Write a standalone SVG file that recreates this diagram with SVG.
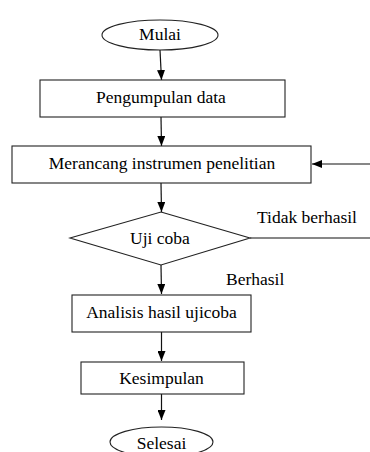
<svg xmlns="http://www.w3.org/2000/svg" width="370" height="452" viewBox="0 0 370 452">
<defs>
<marker id="ah" markerWidth="10" markerHeight="8" refX="10" refY="4" orient="auto" markerUnits="userSpaceOnUse">
<path d="M0,0 L10,4 L0,8 Z" fill="#000"/>
</marker>
<style>
.s{fill:#fff;stroke:#222;stroke-width:1.1}
.t{font-size:17.5px;fill:#000;text-anchor:middle}
.l{font-size:17.5px;fill:#000}
.c{fill:none;stroke:#111;stroke-width:1.2}
</style>
</defs>
<rect width="370" height="452" fill="#fff"/>
<g font-family="'Liberation Serif', 'DejaVu Serif', serif">
<g id="connectors">
<line class="c" x1="160" y1="50" x2="161.5" y2="80" marker-end="url(#ah)"/>
<line class="c" x1="161" y1="117" x2="161.5" y2="146" marker-end="url(#ah)"/>
<line class="c" x1="370" y1="164" x2="312" y2="164" marker-end="url(#ah)"/>
<line class="c" x1="161" y1="183" x2="161.5" y2="212" marker-end="url(#ah)"/>
<line class="c" x1="250" y1="238" x2="370" y2="238"/>
<line class="c" x1="161" y1="265" x2="161.5" y2="294" marker-end="url(#ah)"/>
<line class="c" x1="161.5" y1="332" x2="161.5" y2="361" marker-end="url(#ah)"/>
<line class="c" x1="161.5" y1="394" x2="161.5" y2="420" marker-end="url(#ah)"/>
<text class="l" x="257" y="223">Tidak berhasil</text>
<text class="l" x="226" y="285">Berhasil</text>
</g>
<g id="mulai">
<ellipse class="s" cx="160" cy="35" rx="58" ry="15"/>
<text class="t" x="160" y="40">Mulai</text>
</g>
<g id="pengumpulan">
<rect class="s" x="40" y="80" width="245" height="37"/>
<text class="t" x="161" y="103">Pengumpulan data</text>
</g>
<g id="merancang">
<rect class="s" x="12" y="146" width="299" height="37"/>
<text class="t" x="162" y="169">Merancang instrumen penelitian</text>
</g>
<g id="ujicoba">
<polygon class="s" points="161,212 250,238 161,265 70,238"/>
<text class="t" x="160" y="244">Uji coba</text>
</g>
<g id="analisis">
<rect class="s" x="72" y="295" width="179" height="37"/>
<text class="t" x="161.5" y="318">Analisis hasil ujicoba</text>
</g>
<g id="kesimpulan">
<rect class="s" x="81" y="362" width="163" height="32"/>
<text class="t" x="161.5" y="384">Kesimpulan</text>
</g>
<g id="selesai">
<ellipse class="s" cx="161.5" cy="442" rx="51.5" ry="15"/>
<text class="t" x="161.5" y="449">Selesai</text>
</g>
</g>
</svg>
